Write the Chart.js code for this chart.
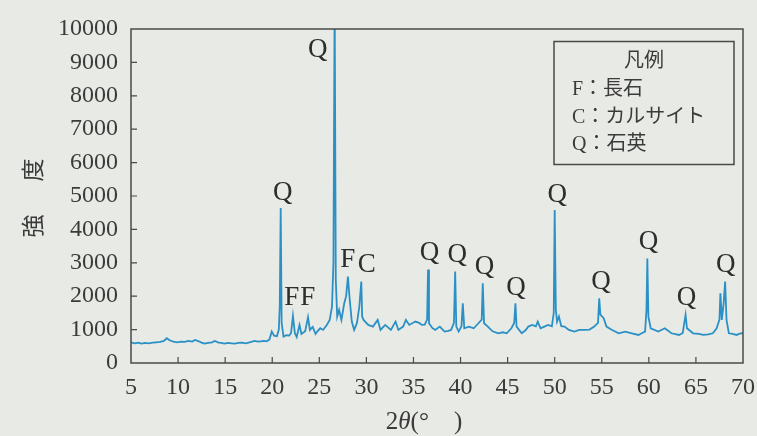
<!DOCTYPE html>
<html>
<head>
<meta charset="utf-8">
<script src="https://cdn.jsdelivr.net/npm/chart.js@4"></script>
<style>
  html, body { margin: 0; padding: 0; background: #e8eae5; }
  #wrap { width: 757px; height: 436px; position: relative; }
</style>
</head>
<body>
<div id="wrap"><canvas id="xrd"></canvas></div>
<script>
// 2θ (deg) and intensity
const twoTheta = [
  5.0, 5.4, 5.8, 6.1, 6.5, 6.9, 7.3, 7.7, 8.1, 8.5, 8.8, 9.1, 9.5, 9.9, 10.3, 10.7, 11.1, 11.5, 11.8, 12.2,
  12.5, 12.8, 13.2, 13.6, 13.9, 14.3, 14.6, 14.9, 15.3, 15.7, 16.0, 16.4, 16.8, 17.2, 17.6, 18.1, 18.5, 18.8, 19.1, 19.4,
  19.7, 19.95, 20.2, 20.5, 20.7, 20.8, 20.9, 21.0, 21.2, 21.5, 21.8, 22.0, 22.2, 22.4, 22.6, 22.9, 23.1, 23.5, 23.8, 24.0,
  24.3, 24.6, 24.8, 25.1, 25.4, 25.8, 26.1, 26.35, 26.5, 26.63, 26.75, 26.9, 27.1, 27.35, 27.65, 27.85, 28.04, 28.2, 28.45, 28.7,
  29.0, 29.25, 29.46, 29.55, 29.7, 30.2, 30.7, 31.2, 31.5, 32.0, 32.6, 33.1, 33.4, 33.9, 34.2, 34.55, 35.2, 35.6, 35.9, 36.2,
  36.45, 36.55, 36.65, 37.0, 37.3, 37.8, 38.3, 38.7, 39.0, 39.3, 39.43, 39.55, 39.8, 40.1, 40.24, 40.4, 40.9, 41.4, 41.9, 42.25,
  42.36, 42.5, 42.9, 43.4, 44.0, 44.5, 44.9, 45.4, 45.7, 45.83, 45.95, 46.5, 46.9, 47.2, 47.6, 48.0, 48.2, 48.5, 48.9, 49.3,
  49.7, 49.9, 50.0, 50.12, 50.25, 50.45, 50.7, 51.05, 51.5, 52.1, 52.6, 53.2, 53.7, 54.2, 54.6, 54.73, 54.85, 55.2, 55.5, 56.1,
  56.8, 57.5, 58.2, 58.9, 59.3, 59.6, 59.75, 59.84, 59.95, 60.2, 61.0, 61.7, 62.4, 63.2, 63.6, 63.9, 64.05, 64.7, 65.3, 65.8,
  66.3, 66.8, 67.2, 67.5, 67.6, 67.75, 67.95, 68.1, 68.25, 68.5, 68.9, 69.3, 69.8, 70.0
];
const intensity = [
  620, 590, 610, 580, 600, 590, 610, 620, 630, 660, 740, 680, 640, 620, 640, 630, 660, 640, 690, 650,
  610, 580, 600, 620, 660, 610, 600, 580, 600, 590, 580, 600, 610, 590, 620, 660, 640, 650, 660, 650,
  700, 940, 820, 800, 1000, 1700, 4640, 1200, 790, 830, 820, 900, 1410, 900, 780, 1140, 870, 950, 1370, 990,
  1080, 870, 950, 1040, 990, 1140, 1290, 1690, 3000, 11000, 2500, 1390, 1590, 1290, 1790, 2000, 2590, 1990, 1240, 990,
  1200, 1690, 2440, 1390, 1290, 1140, 1090, 1290, 990, 1140, 990, 1240, 990, 1090, 1290, 1140, 1240, 1200, 1140, 1150,
  1300, 2800, 1190, 1050, 990, 1090, 940, 960, 990, 1200, 2740, 1090, 940, 1100, 1790, 1040, 1090, 1040, 1190, 1300,
  2390, 1190, 1090, 950, 890, 920, 890, 1040, 1200, 1790, 1090, 890, 980, 1090, 1140, 1100, 1240, 1040, 1090, 1140,
  1100, 1500, 4580, 1600, 1240, 1390, 1100, 1090, 990, 940, 990, 990, 1000, 1090, 1200, 1940, 1450, 1340, 1090, 990,
  890, 940, 890, 840, 900, 940, 1600, 3130, 1390, 1040, 940, 1040, 890, 840, 900, 1440, 1040, 890, 870, 840,
  860, 890, 1040, 1300, 2090, 1290, 1800, 2440, 1290, 890, 870, 840, 890, 880
];

// peak annotations (mineral letter, placed in data units)
const peakText = ['Q', 'Q', 'F', 'F', 'F', 'C', 'Q', 'Q', 'Q', 'Q', 'Q', 'Q', 'Q', 'Q', 'Q'];
const peakX    = [24.83, 21.12, 22.07, 23.77, 28.01, 30.03, 36.71, 39.64, 42.54, 45.9, 50.28, 54.91, 59.96, 63.99, 68.17];
const peakY    = [9370, 5090, 1950, 1950, 3080, 2930, 3290, 3230, 2870, 2250, 5030, 2430, 3620, 1950, 2930];

const xTicks = [5, 10, 15, 20, 25, 30, 35, 40, 45, 50, 55, 60, 65, 70];
const legendTitle = '凡例';
const legendLines = ['F：長石', 'C：カルサイト', 'Q：石英'];
const yTitle = ['強', '度'];

const INK = '#3b3b3b';
const SERIF = '"Liberation Serif", "DejaVu Serif", serif';
const JP = '"Liberation Serif", "Noto Sans CJK JP", sans-serif';

const paper = {
  id: 'paper',
  beforeDraw(chart) {
    const { ctx, width, height } = chart;
    ctx.save();
    ctx.fillStyle = '#e8eae5';
    ctx.fillRect(0, 0, width, height);
    ctx.restore();
  }
};

const frame = {
  id: 'frame',
  afterDraw(chart) {
    const { ctx, chartArea: a, scales: { x, y } } = chart;
    ctx.save();
    ctx.strokeStyle = '#4a4a4a';
    ctx.lineWidth = 1.5;
    ctx.strokeRect(a.left, a.top, a.right - a.left, a.bottom - a.top);

    // inward tick marks
    ctx.lineWidth = 1.2;
    ctx.beginPath();
    xTicks.slice(1, -1).forEach(v => {
      const px = x.getPixelForValue(v);
      ctx.moveTo(px, a.bottom);
      ctx.lineTo(px, a.bottom - 6);
    });
    for (let v = 1000; v < 10000; v += 1000) {
      const py = y.getPixelForValue(v);
      ctx.moveTo(a.left, py);
      ctx.lineTo(a.left + 6, py);
    }
    ctx.stroke();

    // peak letters
    ctx.fillStyle = '#2d2d2d';
    ctx.font = '27px ' + SERIF;
    ctx.textAlign = 'center';
    ctx.textBaseline = 'middle';
    peakText.forEach((t, i) => {
      ctx.fillText(t, x.getPixelForValue(peakX[i]), y.getPixelForValue(peakY[i]));
    });

    // legend box
    ctx.strokeStyle = '#4a4a4a';
    ctx.lineWidth = 1.5;
    ctx.strokeRect(554, 41.5, 180, 123);
    ctx.fillStyle = INK;
    ctx.font = '20px ' + JP;
    ctx.fillText(legendTitle, 644, 62);
    ctx.textAlign = 'left';
    legendLines.forEach((t, i) => ctx.fillText(t, 572, 90 + i * 27.5));

    // y title, rotated characters
    ctx.font = '23px "Noto Sans CJK JP", sans-serif';
    ctx.textAlign = 'center';
    [[yTitle[0], 226], [yTitle[1], 170]].forEach(([c, py]) => {
      ctx.save();
      ctx.translate(32, py);
      ctx.rotate(-Math.PI / 2);
      ctx.fillText(c, 0, 0);
      ctx.restore();
    });

    // x title: 2θ(°  )
    const parts = [
      ['2', '25px ' + SERIF],
      ['θ', 'italic 25px ' + SERIF],
      ['(°    )', '25px ' + SERIF]
    ];
    ctx.textAlign = 'left';
    let w = 0;
    parts.forEach(([s, f]) => { ctx.font = f; w += ctx.measureText(s).width; });
    let cx = 424 - w / 2;
    parts.forEach(([s, f]) => {
      ctx.font = f;
      ctx.fillText(s, cx, 422);
      cx += ctx.measureText(s).width;
    });
    ctx.restore();
  }
};

new Chart(document.getElementById('xrd'), {
  type: 'line',
  data: {
    datasets: [{
      data: twoTheta.map((t, i) => ({ x: t, y: intensity[i] })),
      borderColor: '#2a90c6',
      borderWidth: 1.8,
      pointRadius: 0,
      tension: 0,
      fill: false
    }]
  },
  options: {
    responsive: true,
    maintainAspectRatio: false,
    animation: false,
    events: [],
    layout: { padding: { left: 0, top: 29, right: 13, bottom: 0 } },
    plugins: { legend: { display: false }, tooltip: { enabled: false } },
    scales: {
      x: {
        type: 'linear',
        min: 5,
        max: 70,
        afterBuildTicks: s => { s.ticks = xTicks.map(v => ({ value: v })); },
        afterFit: s => { s.height = 73; },
        grid: { display: false },
        border: { display: false },
        ticks: { color: INK, font: { family: SERIF, size: 24 }, padding: 2, maxRotation: 0, callback: v => String(v) }
      },
      y: {
        min: 0,
        max: 10000,
        afterFit: s => { s.width = 131; },
        grid: { display: false },
        border: { display: false },
        ticks: { stepSize: 1000, color: INK, font: { family: SERIF, size: 24 }, padding: 5, callback: v => String(v) }
      }
    }
  },
  plugins: [paper, frame]
});
</script>
</body>
</html>
